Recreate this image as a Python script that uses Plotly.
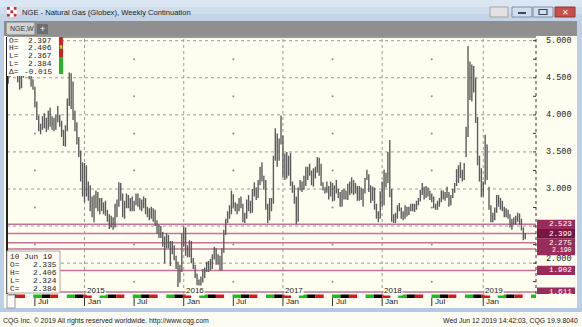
import plotly.graph_objects as go
import pandas as pd

W, H = 582, 327

# ---------------- data (weekly NGE continuation) ----------------
first_week = "2014-03-31"
bar_open = [
    4.46, 4.52, 4.60, 4.72, 4.80, 4.62, 4.48, 4.40, 4.52, 4.62, 4.70, 4.76, 4.52, 4.42, 4.36, 4.14,
    3.96, 3.80, 3.84, 3.94, 3.90, 3.82, 4.02, 3.86, 3.88, 3.84, 3.98, 3.94, 3.88, 3.76, 3.62, 3.82,
    4.18, 4.42, 4.24, 4.04, 3.84, 3.64, 3.48, 3.20,
    3.00, 3.25, 2.95, 2.90, 2.76, 2.66, 2.86, 2.90, 2.72, 2.84, 2.74, 2.78, 2.68, 2.60, 2.52, 2.60,
    2.53, 2.76, 2.80, 3.02, 2.90, 2.66, 2.80, 2.78, 2.84, 2.80, 2.74, 2.80, 2.90, 2.80, 2.82, 2.76,
    2.86, 2.70, 2.64, 2.70, 2.64, 2.70, 2.54, 2.44, 2.48, 2.38, 2.26, 2.32, 2.36, 2.26, 2.22, 2.18,
    2.08, 1.98, 1.76, 1.90,
    2.30, 2.46, 2.14, 2.12, 2.28, 2.04, 1.96, 1.84, 1.72, 1.66, 1.80, 1.88, 1.90, 1.99, 1.99, 1.94,
    2.10, 2.17, 2.10, 2.09, 1.92, 2.16, 2.41, 2.56, 2.63, 2.68, 2.91, 2.77, 2.74, 2.77, 2.86, 2.77,
    2.58, 2.62, 2.84, 2.78, 2.70, 2.96, 2.98, 2.90, 3.10, 3.25, 3.15, 3.02, 2.78, 2.60, 2.84, 2.82,
    3.40, 3.70, 3.42, 3.62,
    3.70, 3.42, 3.40, 3.20, 3.37, 3.07, 3.02, 2.85, 2.60, 2.99, 3.02, 3.03, 3.06, 3.19, 3.26, 3.20,
    3.09, 3.27, 3.24, 3.40, 3.26, 3.07, 3.00, 3.02, 2.96, 3.02, 3.06, 2.86, 2.98, 2.96, 2.95, 2.78,
    2.97, 2.89, 2.92, 3.04, 2.95, 3.07, 2.98, 3.02, 2.88, 3.00, 2.90, 2.96, 3.14, 3.18, 3.02, 2.86,
    3.01, 2.75, 2.64, 2.62,
    2.95, 2.80, 3.20, 3.10, 3.46, 2.98, 2.58, 2.56, 2.67, 2.75, 2.73, 2.69, 2.62, 2.74, 2.69, 2.74,
    2.76, 2.72, 2.78, 2.82, 2.85, 2.95, 2.98, 2.90, 3.00, 2.94, 2.88, 2.86, 2.76, 2.74, 2.80, 2.84,
    2.95, 2.92, 2.90, 2.94, 2.79, 2.90, 2.96, 3.06, 3.15, 3.17, 3.24, 3.18, 3.45, 3.76, 4.30, 4.62,
    4.60, 4.48, 3.95, 3.40, 3.22,
    2.94, 3.10, 3.55, 3.02, 2.76, 2.58, 2.62, 2.72, 2.86, 2.82, 2.78, 2.74, 2.66, 2.70, 2.64, 2.52,
    2.56, 2.58, 2.62, 2.64, 2.58, 2.45, 2.335,
]
bar_high = [
    4.56, 4.66, 4.80, 4.86, 4.84, 4.66, 4.56, 4.56, 4.68, 4.76, 4.82, 4.80, 4.56, 4.48, 4.38, 4.18,
    3.99, 3.88, 3.98, 4.02, 3.96, 4.06, 4.10, 3.98, 3.96, 4.00, 4.12, 4.00, 3.92, 3.80, 3.86, 4.22,
    4.57, 4.56, 4.45, 4.06, 3.90, 3.70, 3.52, 3.36,
    3.35, 3.32, 3.10, 3.05, 2.90, 2.92, 2.98, 2.96, 2.88, 2.88, 2.82, 2.84, 2.72, 2.66, 2.64, 2.62,
    2.80, 2.86, 3.09, 3.08, 2.94, 2.84, 2.94, 2.92, 2.88, 2.90, 2.84, 2.94, 2.94, 2.88, 2.86, 2.90,
    2.88, 2.76, 2.74, 2.76, 2.74, 2.72, 2.58, 2.52, 2.50, 2.42, 2.36, 2.40, 2.38, 2.30, 2.30, 2.24,
    2.10, 2.02, 1.98, 2.40,
    2.49, 2.48, 2.24, 2.31, 2.30, 2.07, 1.98, 1.86, 1.78, 1.82, 1.92, 1.94, 2.02, 2.03, 2.06, 2.12,
    2.22, 2.20, 2.12, 2.10, 2.20, 2.45, 2.60, 2.70, 2.78, 2.98, 2.93, 2.82, 2.80, 2.88, 2.90, 2.80,
    2.68, 2.86, 2.92, 2.84, 3.00, 3.09, 3.02, 3.12, 3.30, 3.36, 3.18, 3.12, 2.80, 2.88, 2.88, 3.45,
    3.82, 3.75, 3.68, 3.99,
    3.72, 3.48, 3.50, 3.45, 3.49, 3.10, 3.05, 2.90, 3.02, 3.12, 3.10, 3.18, 3.30, 3.30, 3.34, 3.25,
    3.28, 3.30, 3.43, 3.42, 3.34, 3.09, 3.02, 3.10, 3.04, 3.10, 3.08, 3.05, 3.12, 3.00, 2.96, 2.99,
    3.00, 2.98, 3.07, 3.10, 3.16, 3.12, 3.08, 3.04, 3.04, 3.02, 3.00, 3.15, 3.26, 3.20, 3.05, 3.03,
    3.02, 2.80, 2.70, 2.97,
    3.10, 3.26, 3.22, 3.50, 3.66, 3.00, 2.66, 2.68, 2.78, 2.81, 2.75, 2.70, 2.78, 2.76, 2.76, 2.80,
    2.80, 2.80, 2.84, 2.88, 2.99, 3.08, 3.03, 3.04, 3.02, 2.98, 2.94, 2.90, 2.80, 2.84, 2.88, 2.98,
    2.98, 2.96, 3.03, 2.96, 2.92, 3.00, 3.08, 3.27, 3.32, 3.36, 3.26, 3.35, 3.84, 4.93, 4.72, 4.68,
    4.66, 4.50, 3.97, 3.45, 3.28,
    3.10, 3.73, 3.60, 3.03, 2.78, 2.68, 2.75, 2.92, 2.92, 2.88, 2.84, 2.76, 2.74, 2.72, 2.66, 2.60,
    2.62, 2.64, 2.68, 2.67, 2.60, 2.48, 2.406,
]
bar_low = [
    4.42, 4.51, 4.56, 4.66, 4.58, 4.44, 4.34, 4.36, 4.50, 4.56, 4.60, 4.48, 4.38, 4.34, 4.10, 3.93,
    3.78, 3.74, 3.80, 3.82, 3.77, 3.80, 3.84, 3.80, 3.78, 3.80, 3.90, 3.84, 3.70, 3.58, 3.57, 3.78,
    4.12, 4.08, 3.93, 3.78, 3.60, 3.43, 3.10, 2.90,
    2.82, 2.90, 2.84, 2.70, 2.62, 2.55, 2.74, 2.70, 2.66, 2.70, 2.66, 2.64, 2.56, 2.46, 2.48, 2.45,
    2.48, 2.62, 2.76, 2.84, 2.62, 2.60, 2.74, 2.74, 2.70, 2.70, 2.70, 2.78, 2.76, 2.72, 2.70, 2.74,
    2.66, 2.62, 2.58, 2.60, 2.56, 2.50, 2.40, 2.34, 2.34, 2.22, 2.00, 2.20, 2.20, 1.96, 2.12, 2.04,
    1.92, 1.68, 1.74, 1.88,
    2.22, 2.10, 2.08, 2.08, 2.00, 1.92, 1.80, 1.70, 1.61, 1.63, 1.74, 1.80, 1.88, 1.88, 1.90, 1.92,
    2.05, 1.98, 1.98, 1.90, 1.90, 2.14, 2.38, 2.54, 2.60, 2.66, 2.74, 2.70, 2.66, 2.70, 2.74, 2.55,
    2.54, 2.60, 2.70, 2.67, 2.68, 2.90, 2.85, 2.88, 3.05, 3.10, 2.99, 2.72, 2.54, 2.58, 2.70, 2.80,
    3.38, 3.30, 3.38, 3.60,
    3.16, 3.12, 3.14, 3.18, 3.04, 2.95, 2.80, 2.52, 2.56, 2.98, 2.96, 2.99, 3.04, 3.12, 3.18, 3.05,
    3.03, 3.14, 3.22, 3.18, 3.04, 2.98, 2.94, 2.95, 2.86, 2.90, 2.83, 2.84, 2.94, 2.88, 2.76, 2.76,
    2.86, 2.86, 2.85, 2.92, 2.94, 2.92, 2.94, 2.84, 2.84, 2.85, 2.76, 2.94, 3.12, 2.96, 2.81, 2.84,
    2.72, 2.60, 2.55, 2.60,
    2.76, 2.78, 3.02, 3.08, 2.89, 2.56, 2.54, 2.54, 2.60, 2.70, 2.60, 2.58, 2.60, 2.63, 2.65, 2.70,
    2.70, 2.69, 2.72, 2.78, 2.83, 2.92, 2.86, 2.88, 2.90, 2.85, 2.82, 2.74, 2.72, 2.72, 2.76, 2.82,
    2.86, 2.84, 2.88, 2.76, 2.78, 2.88, 2.95, 3.04, 3.08, 3.15, 3.10, 3.12, 3.43, 3.70, 4.20, 4.18,
    4.30, 3.89, 3.32, 3.10, 2.89,
    2.90, 3.06, 3.12, 2.72, 2.55, 2.55, 2.58, 2.68, 2.76, 2.72, 2.70, 2.62, 2.62, 2.60, 2.48, 2.45,
    2.52, 2.52, 2.56, 2.52, 2.44, 2.31, 2.324,
]
bar_close = [
    4.50, 4.60, 4.72, 4.80, 4.62, 4.48, 4.40, 4.52, 4.62, 4.70, 4.76, 4.52, 4.42, 4.36, 4.14, 3.96,
    3.80, 3.84, 3.94, 3.90, 3.82, 4.02, 3.86, 3.88, 3.84, 3.98, 3.94, 3.88, 3.76, 3.62, 3.82, 4.18,
    4.42, 4.24, 4.04, 3.84, 3.64, 3.48, 3.20, 3.00,
    3.25, 2.95, 2.90, 2.76, 2.66, 2.86, 2.90, 2.72, 2.84, 2.74, 2.78, 2.68, 2.60, 2.52, 2.60, 2.53,
    2.76, 2.80, 3.02, 2.90, 2.66, 2.80, 2.78, 2.84, 2.80, 2.74, 2.80, 2.90, 2.80, 2.82, 2.76, 2.86,
    2.70, 2.64, 2.70, 2.64, 2.70, 2.54, 2.44, 2.48, 2.38, 2.26, 2.32, 2.36, 2.26, 2.22, 2.18, 2.08,
    1.98, 1.76, 1.90, 2.30,
    2.46, 2.14, 2.12, 2.28, 2.04, 1.96, 1.84, 1.72, 1.66, 1.80, 1.88, 1.90, 1.99, 1.99, 1.94, 2.10,
    2.17, 2.10, 2.09, 1.92, 2.16, 2.41, 2.56, 2.63, 2.68, 2.91, 2.77, 2.74, 2.77, 2.86, 2.77, 2.58,
    2.62, 2.84, 2.78, 2.70, 2.96, 2.98, 2.90, 3.10, 3.25, 3.15, 3.02, 2.78, 2.60, 2.84, 2.82, 3.40,
    3.70, 3.42, 3.62, 3.72,
    3.42, 3.40, 3.20, 3.37, 3.07, 3.02, 2.85, 2.60, 2.99, 3.02, 3.03, 3.06, 3.19, 3.26, 3.20, 3.09,
    3.27, 3.24, 3.40, 3.26, 3.07, 3.00, 3.02, 2.96, 3.02, 3.06, 2.86, 2.98, 2.96, 2.95, 2.78, 2.97,
    2.89, 2.92, 3.04, 2.95, 3.07, 2.98, 3.02, 2.88, 3.00, 2.90, 2.96, 3.14, 3.18, 3.02, 2.86, 3.01,
    2.75, 2.64, 2.62, 2.95,
    2.80, 3.20, 3.10, 3.46, 2.98, 2.58, 2.56, 2.67, 2.75, 2.73, 2.69, 2.62, 2.74, 2.69, 2.74, 2.76,
    2.72, 2.78, 2.82, 2.85, 2.95, 2.98, 2.90, 3.00, 2.94, 2.88, 2.86, 2.76, 2.74, 2.80, 2.84, 2.95,
    2.92, 2.90, 2.94, 2.79, 2.90, 2.96, 3.06, 3.15, 3.17, 3.24, 3.18, 3.30, 3.76, 4.30, 4.62, 4.60,
    4.48, 4.12, 3.40, 3.22, 2.94,
    3.06, 3.55, 3.18, 2.76, 2.58, 2.62, 2.72, 2.86, 2.82, 2.78, 2.74, 2.66, 2.70, 2.64, 2.52, 2.56,
    2.58, 2.62, 2.64, 2.58, 2.45, 2.34, 2.384,
]

grid_levels = [5.0, 4.5, 4.0, 3.5, 3.0, 2.5, 2.0]
axis_labels = ["5.000", "4.500", "4.000", "3.500", "3.000", "2.000"]
axis_label_levels = [5.0, 4.5, 4.0, 3.5, 3.0, 2.0]
minor_levels = [4.75, 4.25, 3.75, 3.25, 2.75, 2.25, 1.75]

line_levels = [2.190, 2.275, 2.523, 2.399, 1.902, 1.611]
line_labels = ["2.190", "2.275", "2.523", "2.399", "1.902", "1.611"]

tick_dates = ["2014-07-07", "2015-01-05", "2015-07-06", "2016-01-04", "2016-07-04",
              "2017-01-02", "2017-07-03", "2018-01-01", "2018-07-02", "2019-01-07"]
tick_text = ["Jul", "Jan", "Jul", "Jan", "Jul", "Jan", "Jul", "Jan", "Jul", "Jan"]
year_dates = ["2015-01-05", "2016-01-04", "2017-01-02", "2018-01-01", "2019-01-07"]
year_text = ["2015", "2016", "2017", "2018", "2019"]
mid_dates = ["2014-07-07", "2015-07-06", "2016-07-04", "2017-07-03", "2018-07-02"]

head_keys = ["O=", "H=", "L=", "L=", "Δ="]
head_vals = ["2.397", "2.406", "2.367", "2.384", "-0.015"]
last_date = "10 Jun 19"
last_keys = ["O=", "H=", "L=", "C="]
last_vals = ["2.335", "2.406", "2.324", "2.384"]

title_text = "NGE - Natural Gas (Globex), Weekly Continuation"
status_left = "CQG Inc. © 2019 All rights reserved worldwide. http://www.cqg.com"
status_right = "Wed Jun 12 2019 14:42:03, CQG 19.9.8040"

# ---------------- layout geometry ----------------
PX_L, PX_R, PX_T, PX_B = 7, 536, 37, 294
REF_DATE, REF_PX, PX_PER_DAY = pd.Timestamp("2015-01-05"), 84.5, 0.27258
Y_REF_PX, Y_PER_UNIT = 40.7, 74.15          # 5.000 at 40.7 px
x_lo = REF_DATE + pd.Timedelta(days=(PX_L - REF_PX) / PX_PER_DAY)
x_hi = REF_DATE + pd.Timedelta(days=(PX_R - REF_PX) / PX_PER_DAY)
y_lo = 5 - (PX_B - Y_REF_PX) / Y_PER_UNIT
y_hi = 5 - (PX_T - Y_REF_PX) / Y_PER_UNIT
UNIT_PER_PX = 1 / Y_PER_UNIT

dates = pd.date_range(first_week, periods=len(bar_close), freq="7D")
assert len(bar_open) == len(bar_high) == len(bar_low) == len(bar_close) == 272

CREAM = "#fffdf0"
PLUM = "#c27396"
BOX = "#9a2c5c"
MONO = "Liberation Mono"
SANS = "Liberation Sans"

def X(px):
    return px / W

def Y(py):
    return 1 - py / H

shapes = []
ann = []

def rect(x0, y0, x1, y1, fill, line_color=None, lw=0, layer="below"):
    shapes.append(dict(type="rect", xref="paper", yref="paper",
                       x0=X(x0), x1=X(x1), y0=Y(y1), y1=Y(y0),
                       fillcolor=fill, layer=layer,
                       line=dict(color=line_color or fill, width=lw)))

def text(x, y, s, size=8, color="#000000", xanchor="left", font=SANS, **kw):
    ann.append(dict(xref="paper", yref="paper", x=X(x), y=Y(y), text=s, showarrow=False,
                    xanchor=xanchor, yanchor="middle",
                    font=dict(family=font, size=size, color=color), **kw))

# ---- window chrome ----
rect(0, 0, W, H, CREAM)
rect(0, 0, W, 7, "#dbe6f3")
rect(0, 7, W, 14, "#cfdded")
rect(0, 14, W, 21, "#c3d4e9")
rect(0, 21, 4, 311, "#bcd0e8")
rect(577, 21, W, 311, "#bcd0e8")
rect(0, 308, W, 312, "#b3c9e4")
rect(4, 21, 577, 36, "#8f8f8f")
# icon
rect(7, 7, 17, 17, "#ffffff")
for ix in range(3):
    for iy in range(3):
        if (ix + iy) % 2 == 0:
            rect(7 + ix * 3.4, 7 + iy * 3.4, 9.8 + ix * 3.4, 9.8 + iy * 3.4, "#d22a3a")
text(20, 12.5, title_text, size=7.6, color="#1a1a1a")
# caption buttons
rect(490, 7, 508, 17, "#e2e2e2", "#a5a5a5", 1)
rect(512, 7, 532, 17, "#d2deee", "#7d8ea8", 1)
rect(518, 12, 526, 14, "#3a4a64")
rect(533, 7, 553, 17, "#d2deee", "#7d8ea8", 1)
rect(539, 9.5, 547, 14.5, "#d2deee", "#3a4a64", 1.2)
rect(555, 7, 575, 17, "#c9504a", "#8e3530", 1)
text(565, 12, "✕", size=8, color="#ffffff", xanchor="center")
# tab
rect(6, 22, 35, 35, "#d3d3d3", "#7a7a7a", 1)
text(8, 28.5, "NGE,W", size=7, color="#333333")
rect(37, 24, 48, 34, "#6e6e6e")
text(42.5, 29, "+", size=9, color="#ffffff", xanchor="center")
# chart area
rect(4, 36, 577, 308, CREAM)
# status bar
rect(0, 312, W, H, "#fcfbf1")
text(1, 320.5, status_left, size=6.9, color="#222222")
text(580, 320.5, status_right, size=6.9, color="#222222", xanchor="right")

# ---- plot frame & grid ----
for lv in grid_levels:
    shapes.append(dict(type="line", xref="paper", yref="y", x0=X(PX_L), x1=X(PX_R), y0=lv, y1=lv,
                       layer="below", line=dict(color="#9a9a9a", width=1, dash="dot")))
for d in year_dates:
    shapes.append(dict(type="line", xref="x", yref="paper", x0=d, x1=d, y0=Y(PX_B), y1=Y(PX_T),
                       layer="below", line=dict(color="#9a9a9a", width=1, dash="dot")))
for lv in line_levels:
    shapes.append(dict(type="line", xref="paper", yref="y", x0=X(PX_L), x1=X(PX_R), y0=lv, y1=lv,
                       layer="below", line=dict(color=PLUM, width=1.5)))
# borders
shapes.append(dict(type="line", xref="paper", yref="paper", x0=X(PX_L), x1=X(PX_L), y0=Y(PX_B), y1=Y(PX_T),
                   line=dict(color="#222222", width=2)))
shapes.append(dict(type="line", xref="paper", yref="paper", x0=X(PX_L), x1=X(PX_R), y0=Y(PX_T), y1=Y(PX_T),
                   line=dict(color="#333333", width=1)))
shapes.append(dict(type="line", xref="paper", yref="paper", x0=X(PX_R), x1=X(PX_R), y0=Y(PX_B), y1=Y(PX_T),
                   line=dict(color="#333333", width=1, dash="dot")))
for lv in minor_levels + grid_levels:
    shapes.append(dict(type="line", xref="paper", yref="y", x0=X(PX_R - 3), x1=X(PX_R), y0=lv, y1=lv,
                       line=dict(color="#333333", width=1)))

# month colour strip below the plot
months = pd.date_range("2014-04-01", "2019-08-01", freq="MS")
strip_cols = ["#000000", "#d81818", "#ffffff", "#18c018"]
for i in range(len(months) - 1):
    shapes.append(dict(type="rect", xref="x", yref="paper", x0=months[i], x1=months[i + 1],
                       y0=Y(298), y1=Y(294.5), fillcolor=strip_cols[i % 4], layer="above",
                       line=dict(width=0)))
# date ticks & labels
for d, t in zip(tick_dates, tick_text):
    shapes.append(dict(type="line", xref="x", yref="paper", x0=d, x1=d, y0=Y(306), y1=Y(298),
                       line=dict(color="#333333", width=1)))
    ann.append(dict(xref="x", yref="paper", x=d, y=Y(301.5), text=t, showarrow=False,
                    xanchor="left", yanchor="middle", xshift=1,
                    font=dict(family=SANS, size=8, color="#222222")))
for d, t in zip(year_dates, year_text):
    ann.append(dict(xref="x", yref="paper", x=d, y=Y(290.5), text=t, showarrow=False,
                    xanchor="left", yanchor="middle", xshift=1, bgcolor=CREAM, borderpad=0,
                    font=dict(family=SANS, size=8, color="#222222")))
rect(7, 295, 15, 308, "#ffffff", "#9a9a9a", 1, layer="above")

# right axis labels (2.000 is nudged up by the chart to clear the 1.902 marker)
label_shift = {"2.000": 4.5}
for lv, t in zip(axis_label_levels, axis_labels):
    ann.append(dict(xref="paper", yref="y", x=X(574), y=lv + label_shift.get(t, 0) * UNIT_PER_PX,
                    text=t, showarrow=False, xanchor="right", yanchor="middle",
                    font=dict(family=MONO, size=8.5, color="#222222")))
half = 4.6 * UNIT_PER_PX
marker_shift = {"2.190": -1.6}
for lv, t in zip(line_levels, line_labels):
    fill = "#7a1440" if t == "2.399" else BOX
    yc = lv + marker_shift.get(t, 0) * UNIT_PER_PX
    shapes.append(dict(type="rect", xref="paper", yref="y", x0=X(537), x1=X(575),
                       y0=yc - half, y1=yc + half, fillcolor=fill, layer="above",
                       line=dict(width=0)))
    ann.append(dict(xref="paper", yref="y", x=X(574), y=yc, text=t, showarrow=False,
                    xanchor="right", yanchor="middle",
                    font=dict(family=MONO, size=7.6 if t != "2.190" else 6.5, color="#ffffff")))

# top-left OHLC box
rect(7, 37, 59, 76, "#fffef6", layer="above")
rect(59, 37, 63, 57, "#d42020", layer="above")
rect(59, 57, 63, 74, "#22b822", layer="above")
rect(59.5, 45, 62.5, 49, "#e6c800", "#555555", 0.5, layer="above")
for i, (k, v) in enumerate(zip(head_keys, head_vals)):
    yy = 40.8 + i * 7.7
    text(7, yy, k, size=7.8, color="#222222", font=MONO)
    text(54, yy, v, size=7.8, color="#222222", xanchor="right", font=MONO)

# bottom-left last-bar box
rect(7, 251, 60, 293, "#fffef6", "#a8a8a8", 1, layer="above")
text(7.5, 256.5, last_date, size=7.8, color="#222222", font=MONO)
for i, (k, v) in enumerate(zip(last_keys, last_vals)):
    yy = 264.7 + i * 8.2
    text(7.5, yy, k, size=7.8, color="#222222", font=MONO)
    text(59, yy, v, size=7.8, color="#222222", xanchor="right", font=MONO)

# ---------------- figure ----------------
fig = go.Figure()
fig.add_trace(go.Scatter(
    x=[d for d in mid_dates for _ in minor_levels],
    y=[lv for _ in mid_dates for lv in minor_levels],
    mode="markers", marker=dict(size=2, color="#8a8a8a"), hoverinfo="skip", showlegend=False))
fig.add_trace(go.Ohlc(
    x=dates, open=bar_open, high=bar_high, low=bar_low, close=bar_close,
    increasing=dict(line=dict(color="#5c5c5c", width=1.4)),
    decreasing=dict(line=dict(color="#5c5c5c", width=1.4)),
    tickwidth=0.35, hoverinfo="skip", showlegend=False))

fig.update_layout(
    width=W, height=H, margin=dict(l=0, r=0, t=0, b=0),
    paper_bgcolor=CREAM, plot_bgcolor="rgba(0,0,0,0)",
    xaxis=dict(domain=[X(PX_L), X(PX_R)], range=[x_lo, x_hi], visible=False,
               rangeslider=dict(visible=False), fixedrange=True),
    yaxis=dict(domain=[Y(PX_B), Y(PX_T)], range=[y_lo, y_hi], visible=False, fixedrange=True),
    shapes=shapes, annotations=ann, showlegend=False,
)
fig.write_html("out.html")
